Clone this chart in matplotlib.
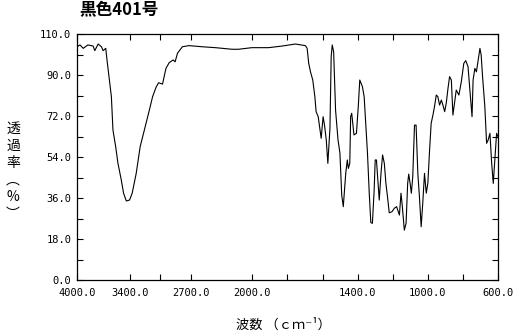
import numpy as np
import matplotlib
matplotlib.use("Agg")
import matplotlib.pyplot as plt

plt.rcParams['font.family'] = ['Noto Sans CJK JP', 'DejaVu Sans']

# spectrum: wavenumber (cm-1) and transmittance (%)
wavenumber = [4000, 3966, 3929, 3876, 3816, 3797, 3759, 3721, 3703, 3672,
              3658, 3635, 3608, 3590, 3559, 3533, 3495, 3469, 3438, 3401,
              3371, 3325, 3280, 3232, 3175, 3138, 3099, 3070, 3025, 2986,
              2949, 2904, 2881, 2855, 2799, 2723, 2573, 2421, 2234, 2158,
              2007, 1908, 1832, 1755, 1698, 1688, 1679, 1669, 1656, 1644,
              1637, 1625, 1617, 1608, 1597, 1589, 1579, 1570, 1558, 1551,
              1545, 1537, 1526, 1512, 1501, 1491, 1482, 1468, 1459, 1453,
              1445, 1440, 1434, 1421, 1407, 1396, 1388, 1373, 1363, 1353,
              1344, 1334, 1325, 1316, 1306, 1300, 1293, 1283, 1277, 1267,
              1258, 1248, 1239, 1230, 1220, 1204, 1191, 1178, 1162, 1153,
              1147, 1134, 1124, 1115, 1109, 1101, 1094, 1086, 1076, 1067,
              1057, 1048, 1038, 1029, 1019, 1009, 1000, 990, 981, 971,
              962, 952, 943, 933, 923, 914, 904, 895, 885, 876,
              866, 857, 847, 838, 823, 809, 795, 784, 771, 761,
              748, 742, 732, 723, 713, 703, 696, 688, 675, 665,
              656, 646, 636, 627, 617, 608, 600]
transmittance = [102.4, 103.2, 101.7, 103.2, 102.7, 100.7, 103.6, 102.4, 100.7, 101.7,
                 96.6, 89.3, 80.5, 65.8, 58.5, 51.2, 43.9, 38.1, 34.7, 35.1,
                 38.1, 46.8, 58.5, 65.8, 74.6, 80.5, 84.6, 86.6, 86.0, 92.9,
                 95.4, 96.6, 95.8, 99.5, 102.4, 102.9, 102.4, 102.0, 101.3, 101.3,
                 102.0, 102.0, 102.7, 103.6, 102.9, 101.7, 95.1, 91.4, 87.8, 80.5,
                 73.9, 71.7, 67.3, 62.2, 71.7, 68.0, 61.5, 51.2, 66.6, 98.0,
                 103.2, 100.2, 74.6, 61.5, 55.6, 37.3, 32.2, 46.8, 52.7, 49.0,
                 51.2, 71.7, 73.2, 63.7, 64.4, 76.8, 87.8, 84.9, 80.5, 67.3,
                 55.6, 38.1, 25.2, 24.9, 39.5, 52.7, 52.7, 41.7, 35.1, 46.8,
                 54.9, 51.2, 42.4, 36.6, 29.5, 30.0, 31.5, 32.2, 28.5, 38.1,
                 33.7, 21.9, 24.9, 42.4, 46.5, 42.4, 38.1, 45.3, 68.0, 68.0,
                 46.8, 36.6, 23.4, 33.7, 46.8, 38.1, 42.4, 57.1, 68.8, 72.4,
                 76.1, 81.2, 80.5, 76.8, 79.0, 76.8, 73.9, 77.6, 84.2, 89.3,
                 87.8, 72.4, 78.3, 83.4, 81.2, 87.1, 95.1, 96.3, 93.7, 84.2,
                 71.7, 87.8, 92.9, 91.4, 96.6, 101.7, 98.8, 89.3, 76.1, 60.0,
                 61.5, 64.4, 51.2, 42.4, 54.1, 64.4, 62.9]

x_major = [4000, 3400, 2700, 2000, 1400, 1000, 600]
x_minor = [3050, 1800, 1600, 1200, 800]
y_major = [0, 18, 36, 54, 72, 90, 108]
y_labels = ['0.0', '18.0', '36.0', '54.0', '72.0', '90.0', '110.0']


# IR style axis: above 2000 cm-1 compressed by half
def fwd(w):
    w = np.asarray(w, dtype=float)
    return np.where(w > 2000, w / 2 + 1000, w)


def inv(u):
    u = np.asarray(u, dtype=float)
    return np.where(u > 2000, (u - 1000) * 2, u)


fig = plt.figure(figsize=(5.16, 3.34), dpi=100)
ax = fig.add_axes([77 / 516, 54 / 334, 421 / 516, 246 / 334])
ax.set_xscale('function', functions=(fwd, inv))
ax.plot(wavenumber, transmittance, color='black', lw=0.8)
ax.set_xlim(4000, 600)
ax.set_ylim(0, 108)

ax.set_xticks(x_major)
ax.set_xticklabels(['%.1f' % v for v in x_major])
ax.set_xticks(x_minor, minor=True)
ax.set_xticklabels([], minor=True)
ax.set_yticks(y_major)
ax.set_yticklabels(y_labels)
ax.set_yticks(np.arange(9, 108, 18), minor=True)
ax.set_yticklabels([], minor=True)
ax.tick_params(which='both', direction='in', top=True, right=True,
               length=4, width=0.8, labelsize=7.5,
               labelfontfamily='DejaVu Sans Mono')
ax.tick_params(axis='x', pad=6)
ax.tick_params(axis='y', pad=4)
for s in ax.spines.values():
    s.set_linewidth(0.9)

fig.text(79 / 516, 1 - 10 / 334, '黒色401号', fontsize=12, fontweight='bold',
         va='center', ha='left')
fig.text(283 / 516, 1 - 325 / 334, '波数 （ｃｍ⁻¹）', fontsize=9.5,
         va='center', ha='center')
for i, ch in enumerate(['透', '過', '率', '︵', '%', '︶']):
    fig.text(13 / 516, 1 - (129 + i * 17) / 334, ch, fontsize=10,
             va='center', ha='center')

fig.savefig('out.png', dpi=100)
